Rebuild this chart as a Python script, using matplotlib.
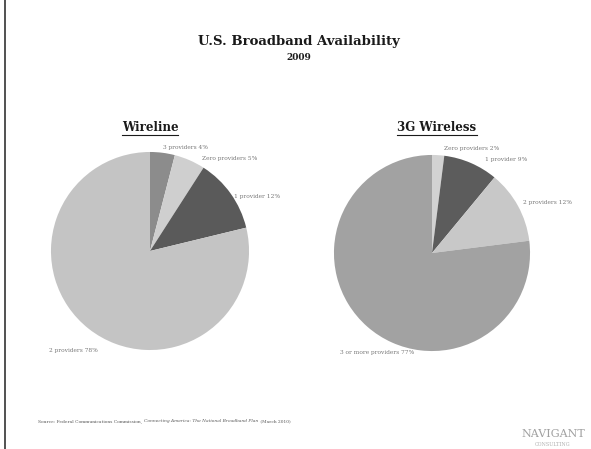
import matplotlib.pyplot as plt
from matplotlib.lines import Line2D

# Broadband availability shares, 2009
wire_labels = ["3 providers", "Zero providers", "1 provider", "2 providers"]
wire_share = [4, 5, 12, 78]
wire_colors = ["#8c8c8c", "#cfcfcf", "#5a5a5a", "#c4c4c4"]
wire_text_pos = [(0.36, 1.05), (0.80, 0.93), (1.08, 0.55), (-0.77, -1.0)]

g3_labels = ["Zero providers", "1 provider", "2 providers", "3 or more providers"]
g3_share = [2, 9, 12, 77]
g3_colors = ["#d2d2d2", "#5c5c5c", "#c8c8c8", "#a2a2a2"]
g3_text_pos = [(0.40, 1.07), (0.76, 0.95), (1.18, 0.52), (-0.56, -1.01)]

W, H = 591, 449
fig = plt.figure(figsize=(W / 100, H / 100), dpi=100)
fig.patch.set_facecolor("white")
plt.rcParams['font.family'] = ['DejaVu Serif']


def px_axes(cx, cy, r):
    # axes box in pixel coords (origin top-left)
    return fig.add_axes([(cx - r) / W, (H - cy - r) / H, 2 * r / W, 2 * r / H])


def draw_pie(ax, share, colors, labels, text_pos):
    ax.pie(share, colors=colors, startangle=90, counterclock=False,
           wedgeprops=dict(linewidth=0))
    for lab, val, (tx, ty) in zip(labels, share, text_pos):
        ax.text(tx, ty, f"{lab} {val}%", fontsize=4.2, color="#777777",
                ha="center", va="center")
    ax.set_xlim(-1.02, 1.02)
    ax.set_ylim(-1.02, 1.02)
    ax.set_aspect("equal")
    ax.axis("off")


ax1 = px_axes(150, 251, 101)
draw_pie(ax1, wire_share, wire_colors, wire_labels, wire_text_pos)
ax2 = px_axes(432, 253, 100)
draw_pie(ax2, g3_share, g3_colors, g3_labels, g3_text_pos)

fig.text(299 / W, 1 - 41 / H, "U.S. Broadband Availability", fontsize=9.5,
         fontweight="bold", ha="center", va="center", color="#1a1a1a")
fig.text(299 / W, 1 - 58 / H, "2009", fontsize=6.5, fontweight="bold",
         ha="center", va="center", color="#1a1a1a")

subs = [fig.text(150 / W, 1 - 127 / H, "Wireline", fontsize=8.5, fontweight="bold",
                 ha="center", va="center", color="#1a1a1a"),
        fig.text(437 / W, 1 - 127 / H, "3G Wireless", fontsize=8.5, fontweight="bold",
                 ha="center", va="center", color="#1a1a1a")]

# underline the panel headings
fig.canvas.draw()
rend = fig.canvas.get_renderer()
for t in subs:
    bb = t.get_window_extent(rend)
    y = (bb.y0 - 1) / H
    fig.add_artist(Line2D([bb.x0 / W, bb.x1 / W], [y, y], color="#1a1a1a", lw=0.8))

# source line, with the report title in italics
x = 38
for part, style in [("Source: Federal Communications Commission, ", "normal"),
                    ("Connecting America: The National Broadband Plan", "italic"),
                    (" (March 2010)", "normal")]:
    t = fig.text(x / W, 1 - 422 / H, part, fontsize=3.2, style=style,
                 ha="left", va="baseline", color="#555555")
    x = t.get_window_extent(rend).x1 + 0.5

fig.text(553 / W, 1 - 434 / H, "NAVIGANT", fontsize=8, ha="center", va="center",
         color="#a0a0a0")
fig.text(553 / W, 1 - 445 / H, "CONSULTING", fontsize=3.5, ha="center", va="center",
         color="#b0b0b0")

# left edge of the slide border
fig.add_artist(Line2D([5 / W, 5 / W], [0, 1], color="#333333", lw=1.2))

fig.savefig("out.png", dpi=100)
